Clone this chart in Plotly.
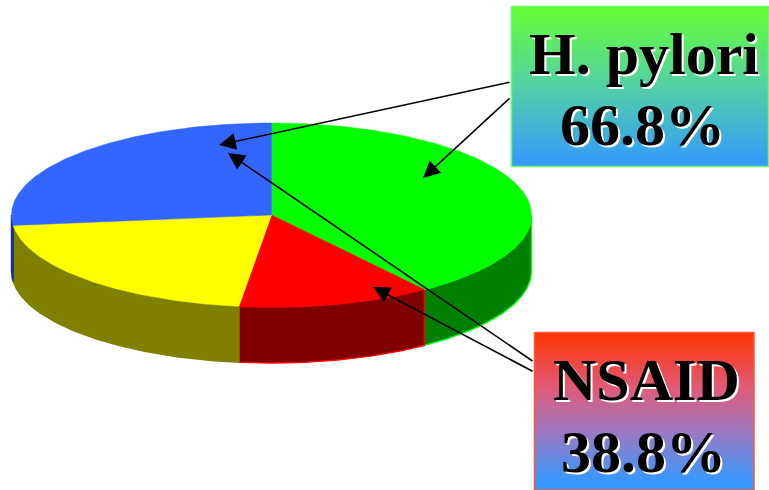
import numpy as np
import plotly.graph_objects as go

# Share of each slice, clockwise from twelve o'clock
slice_names = ["H. pylori only", "NSAID only", "Other", "Both"]
slice_values = [40.0, 12.0, 21.2, 26.8]
top_colors = ["#00ff00", "#ff0000", "#ffff00", "#3366ff"]
wall_colors = ["#008000", "#800000", "#808000", "#1a3380"]
wall_edges = ["#00ff00", "#ff0000", "#808000", "#1a3380"]

hp_label = "H. pylori"
nsaid_label = "NSAID"
hp_percent = slice_values[0] + slice_values[3]
nsaid_percent = slice_values[1] + slice_values[3]

# Projected disc
CX, CY, RX, RY, DEPTH = 271.5, 215.0, 260.0, 92.0, 56.0


def rim(a0, a1, dy=0.0):
    t = np.radians(np.linspace(a0, a1, max(int(abs(a1 - a0) * 2), 2)))
    return CX + RX * np.sin(t), CY - RY * np.cos(t) + dy


fig = go.Figure()
edges = np.concatenate([[0], np.cumsum(slice_values)]) / sum(slice_values) * 360

# Side walls: only the part of the rim facing the viewer
for a0, a1, fill, edge, name in zip(edges[:-1], edges[1:], wall_colors, wall_edges, slice_names):
    lo, hi = max(a0, 90), min(a1, 270)
    if hi <= lo:
        continue
    xt, yt = rim(lo, hi)
    xb, yb = rim(hi, lo, DEPTH)
    fig.add_trace(go.Scatter(
        x=np.concatenate([xt, xb, xt[:1]]), y=np.concatenate([yt, yb, yt[:1]]),
        mode="lines", fill="toself", fillcolor=fill,
        line=dict(color=edge, width=1.4), name=name, hoverinfo="name",
    ))

# Top face wedges
for a0, a1, fill, name in zip(edges[:-1], edges[1:], top_colors, slice_names):
    xr, yr = rim(a0, a1)
    fig.add_trace(go.Scatter(
        x=np.concatenate([[CX], xr, [CX]]), y=np.concatenate([[CY], yr, [CY]]),
        mode="lines", fill="toself", fillcolor=fill,
        line=dict(color=fill, width=0.5), name=name, hoverinfo="name",
    ))


def gradient_box(x0, x1, y0, y1, stops, edge):
    # Vertical fade; stops run from the bottom of the box to its top
    fig.add_trace(go.Scatter(
        x=[x0, x1, x1, x0, x0], y=[y0, y0, y1, y1, y0],
        mode="lines", fill="toself",
        fillgradient=dict(type="vertical", colorscale=stops),
        line=dict(color=edge, width=1.5), hoverinfo="skip",
    ))


gradient_box(511.5, 768.5, 6.5, 166.5,
             [[0, "#3399ff"], [0.5, "#52d0a6"], [1, "#66ff33"]], "#66ff66")
gradient_box(534.5, 754, 332.5, 490,
             [[0, "#3399ff"], [0.04, "#3399ff"], [0.38, "#a078c0"], [0.65, "#e05a78"], [1, "#ff3300"]], "#ff5533")


def leader(x_from, y_from, x_to, y_to):
    fig.add_annotation(
        x=x_to, y=y_to, ax=x_from, ay=y_from, xref="x", yref="y", axref="x", ayref="y",
        text="", showarrow=True, arrowhead=2, arrowsize=2.1, arrowwidth=1.6, arrowcolor="#000000",
    )


leader(511, 82, 219, 145)
leader(511, 97, 423, 178)
leader(534, 362, 228, 153)
leader(534, 372, 373, 287)


def caption(x, y, text):
    fig.add_annotation(
        x=x, y=y, xref="x", yref="y", text=f"<b>{text}</b>", showarrow=False,
        font=dict(family="Liberation Serif", size=60, color="#000000", shadow="2px 2px 0 #ffffff"),
    )


caption(643.5, 54, hp_label)
caption(642, 125, f"{hp_percent:.1f}%")
caption(646, 380, nsaid_label)
caption(643, 452, f"{nsaid_percent:.1f}%")

fig.update_layout(
    width=769, height=490, margin=dict(l=0, r=0, t=0, b=0),
    paper_bgcolor="#ffffff", plot_bgcolor="#ffffff", showlegend=False,
    xaxis=dict(range=[0, 769], visible=False, fixedrange=True),
    yaxis=dict(range=[490, 0], visible=False, fixedrange=True),
)
fig.write_html("out.html", config={"displayModeBar": False})
